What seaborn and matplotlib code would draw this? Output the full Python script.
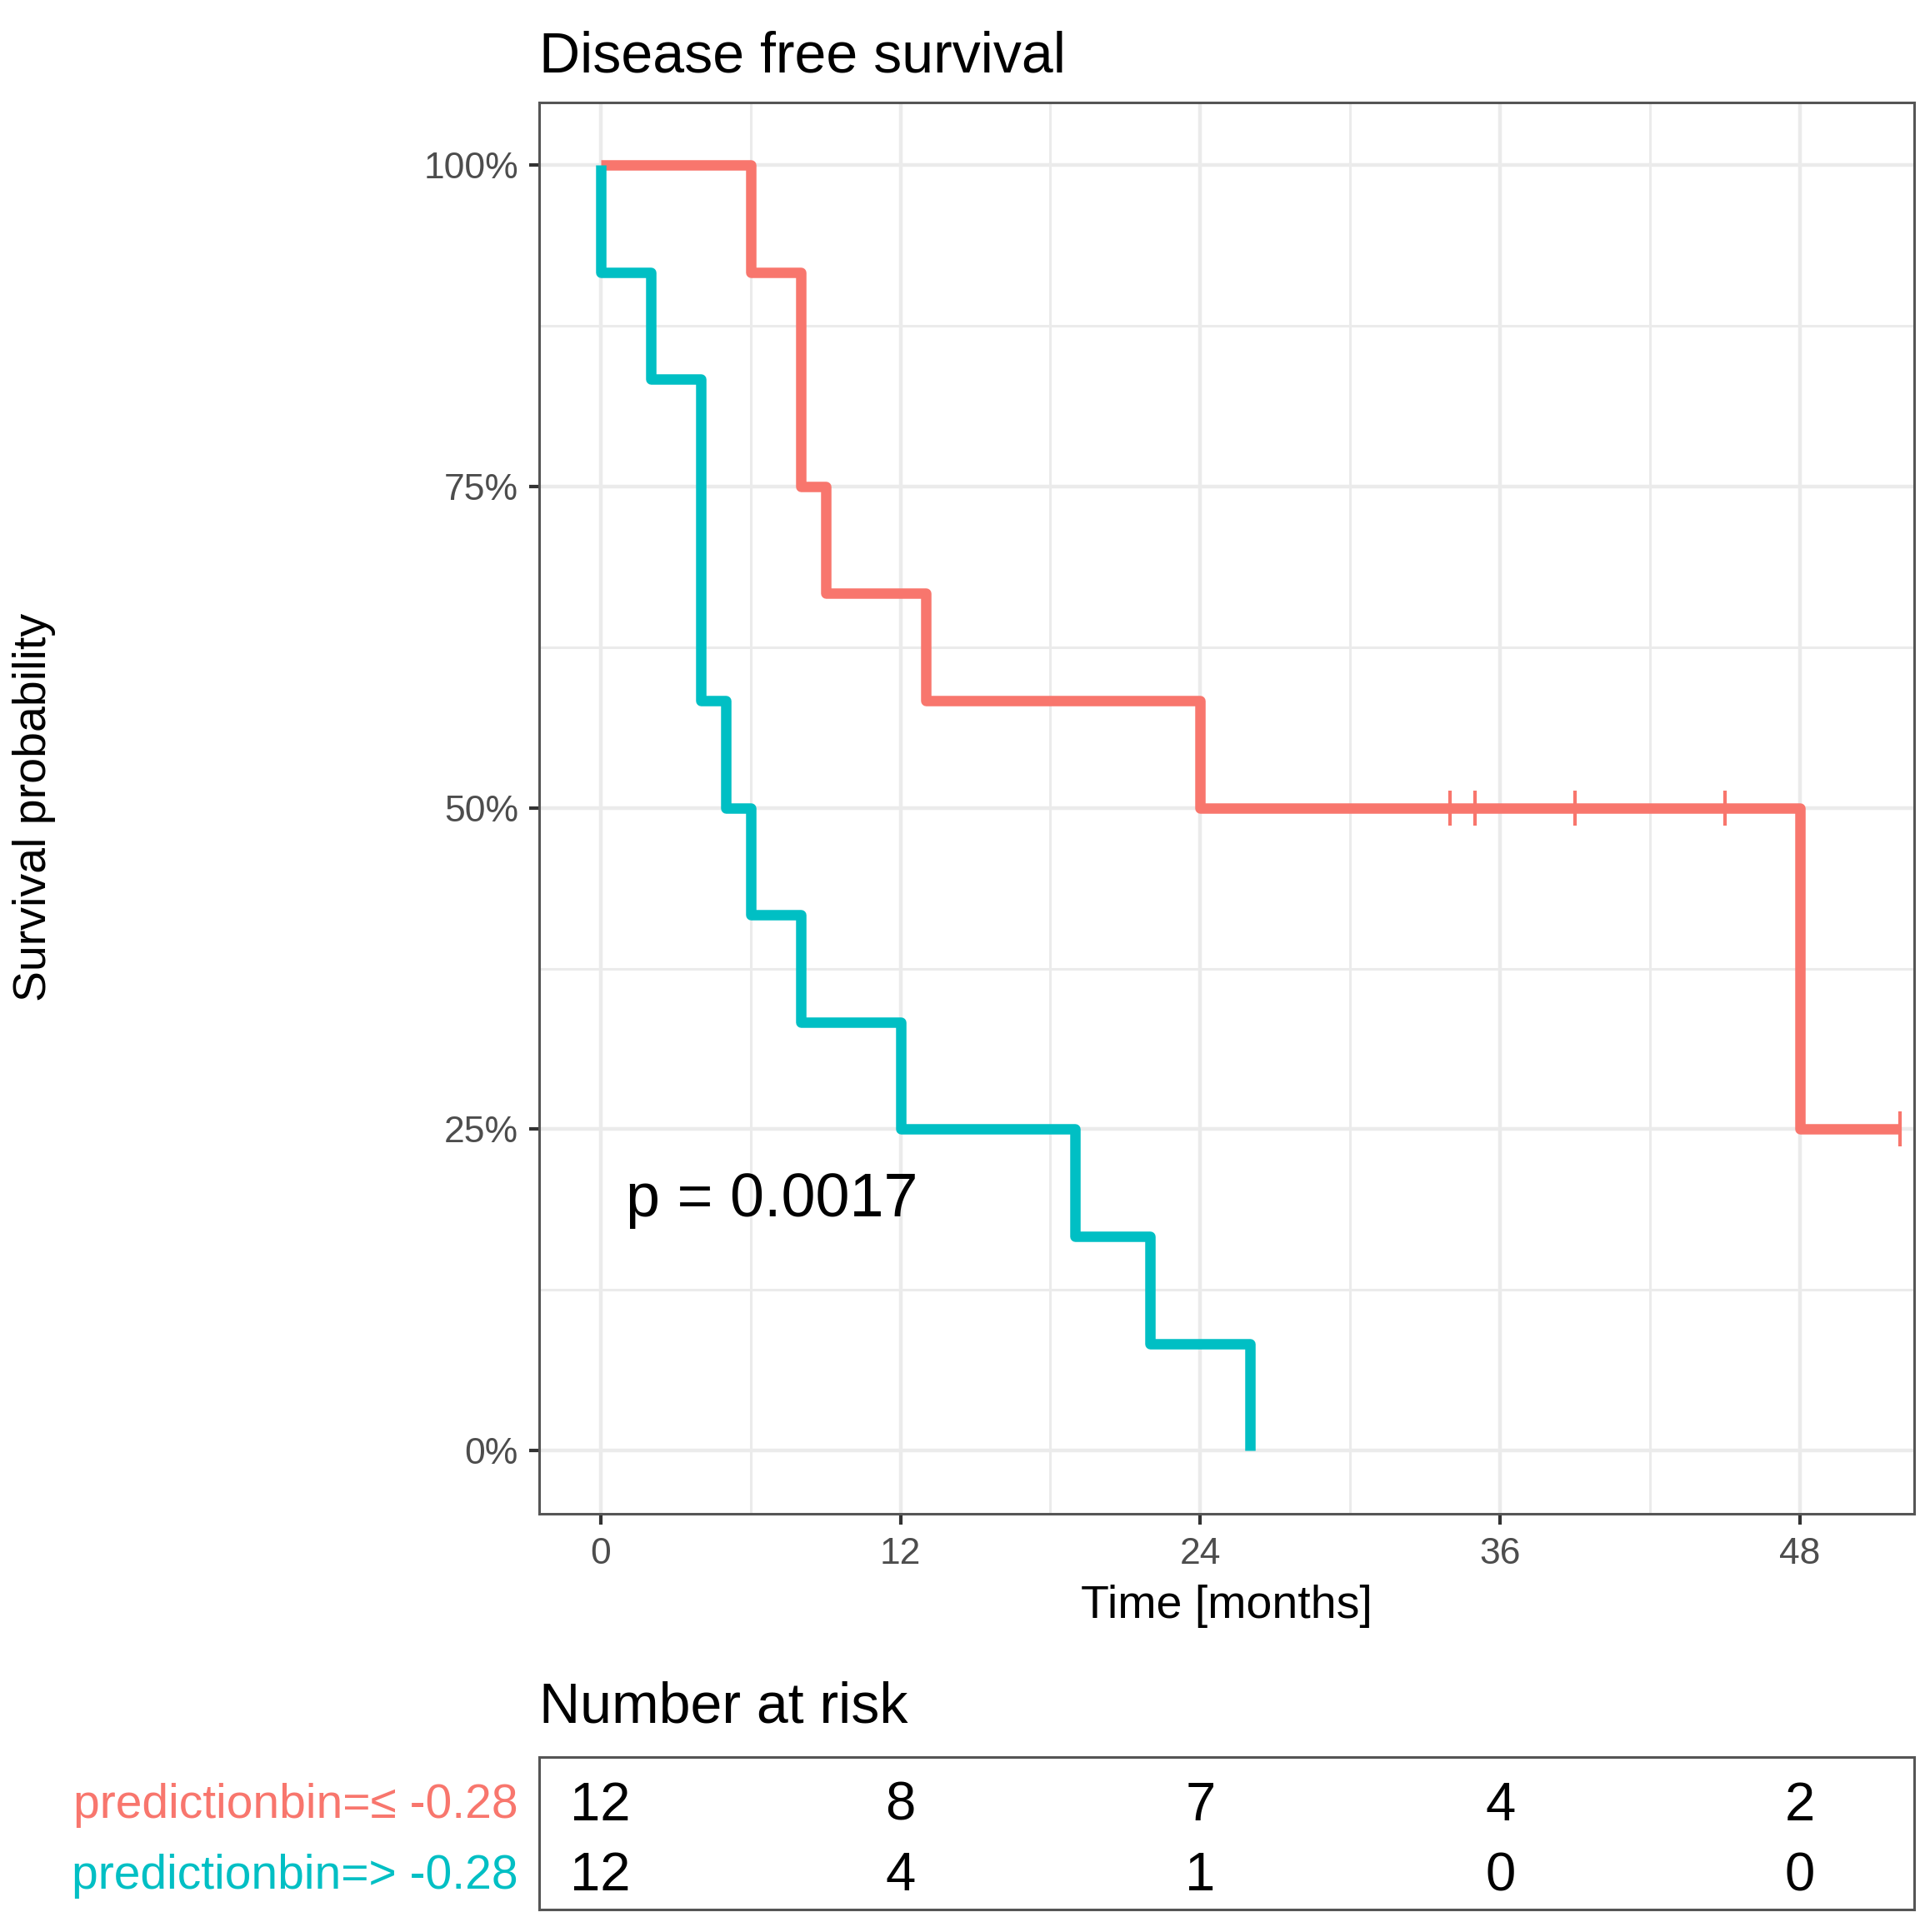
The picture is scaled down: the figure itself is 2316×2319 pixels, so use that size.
import numpy as np
import pandas as pd
import matplotlib
matplotlib.use("Agg")
import matplotlib.pyplot as plt
import seaborn as sns

# ---- data ----
groups = ["predictionbin=\u2264 -0.28", "predictionbin=> -0.28"]
colors = ["#F8766D", "#00BFC4"]

low_time = [0, 6, 8, 9, 13, 24, 48, 52]
low_surv = [1.0, 0.9167, 0.75, 0.6667, 0.5833, 0.5, 0.25, 0.25]
low_cens_time = [34, 35, 39, 45, 52]
low_cens_surv = [0.5, 0.5, 0.5, 0.5, 0.25]

high_time = [0, 0, 2, 4, 5, 6, 8, 12, 19, 22, 26]
high_surv = [1.0, 0.9167, 0.8333, 0.5833, 0.5, 0.4167, 0.3333, 0.25, 0.1667, 0.0833, 0.0]

risk_times = [0, 12, 24, 36, 48]
risk_low = [12, 8, 7, 4, 2]
risk_high = [12, 4, 1, 0, 0]

x_ticks = [0, 12, 24, 36, 48]
y_ticks = [0, 0.25, 0.5, 0.75, 1.0]
y_labels = ["0%", "25%", "50%", "75%", "100%"]
p_text = "p = 0.0017"

# ---- style ----
sns.set_theme(style="white")
plt.rcParams["font.family"] = ["Liberation Sans", "DejaVu Sans"]

W, H = 2316, 2319
DW, DH = 1568.0, 1570.0
fig = plt.figure(figsize=(W / 100, H / 100), dpi=100)

def fx(px):
    return px / DW

def fy(py):
    return 1 - py / DH

ax = fig.add_axes([fx(438), fy(1230), fx(1555) - fx(438), fy(83) - fy(1230)])
ax.set_xlim(-2.46, 52.56)
ax.set_ylim(-0.049, 1.049)

grid_c = "#EBEBEB"
for v in [6, 18, 30, 42]:
    ax.axvline(v, color=grid_c, lw=2.2, zorder=0)
for v in x_ticks:
    ax.axvline(v, color=grid_c, lw=3.2, zorder=0)
for v in [0.125, 0.375, 0.625, 0.875]:
    ax.axhline(v, color=grid_c, lw=2.2, zorder=0)
for v in y_ticks:
    ax.axhline(v, color=grid_c, lw=3.2, zorder=0)

df_low = pd.DataFrame({"time": low_time, "surv": low_surv})
df_high = pd.DataFrame({"time": high_time, "surv": high_surv})
sns.lineplot(data=df_low, x="time", y="surv", ax=ax, color=colors[0], lw=9,
             drawstyle="steps-post", estimator=None, sort=False,
             solid_joinstyle="round", solid_capstyle="butt", zorder=3)
sns.lineplot(data=df_high, x="time", y="surv", ax=ax, color=colors[1], lw=9,
             drawstyle="steps-post", estimator=None, sort=False,
             solid_joinstyle="round", solid_capstyle="butt", zorder=3)
df_cens = pd.DataFrame({"time": low_cens_time, "surv": low_cens_surv})
sns.scatterplot(data=df_cens, x="time", y="surv", ax=ax, marker="|", s=950,
                color=colors[0], linewidth=3.0, zorder=4)

ax.set_xticks(x_ticks)
ax.set_xticklabels([str(t) for t in x_ticks])
ax.set_yticks(y_ticks)
ax.set_yticklabels(y_labels)
ax.tick_params(axis="both", which="both", length=9, width=3, color="#333333",
               labelsize=32, labelcolor="#4D4D4D", pad=9, direction="out")
ax.tick_params(left=True, bottom=True)
ax.tick_params(axis="x", pad=11)
for s in ax.spines.values():
    s.set_visible(True)
    s.set_color("#555555")
    s.set_linewidth(2.2)
ax.set_xlabel("Time [months]", fontsize=40, color="black", labelpad=12)
ax.set_ylabel("")
fig.text(fx(28), fy(656), "Survival probability", rotation=90, fontsize=40,
         ha="center", va="center", color="black")
ax.set_title("Disease free survival", loc="left", fontsize=49, pad=26, color="black")
ax.text(1.0, 0.195, p_text, fontsize=53, ha="left", va="center", color="black")

# ---- risk table ----
ax2 = fig.add_axes([fx(438), fy(1552), fx(1555) - fx(438), fy(1428) - fy(1552)])
ax2.set_xlim(-2.46, 52.56)
ax2.set_ylim(0, 1)
rows_y = [0.715, 0.255]
rt = pd.DataFrame({
    "time": risk_times * 2,
    "n": risk_low + risk_high,
    "row": [rows_y[0]] * len(risk_times) + [rows_y[1]] * len(risk_times),
})
for _, r in rt.iterrows():
    ax2.text(r["time"], r["row"], str(int(r["n"])), fontsize=47,
             ha="center", va="center_baseline", color="black")
ax2.set_xticks([])
ax2.set_yticks(rows_y)
ax2.set_yticklabels(groups, fontsize=41)
for lab, c in zip(ax2.get_yticklabels(), colors):
    lab.set_color(c)
ax2.tick_params(axis="y", length=0, pad=18)
for s in ax2.spines.values():
    s.set_visible(True)
    s.set_color("#555555")
    s.set_linewidth(2.2)
ax2.set_title("Number at risk", loc="left", fontsize=49, pad=30, color="black")

fig.savefig("out.png", dpi=100, facecolor="white")
